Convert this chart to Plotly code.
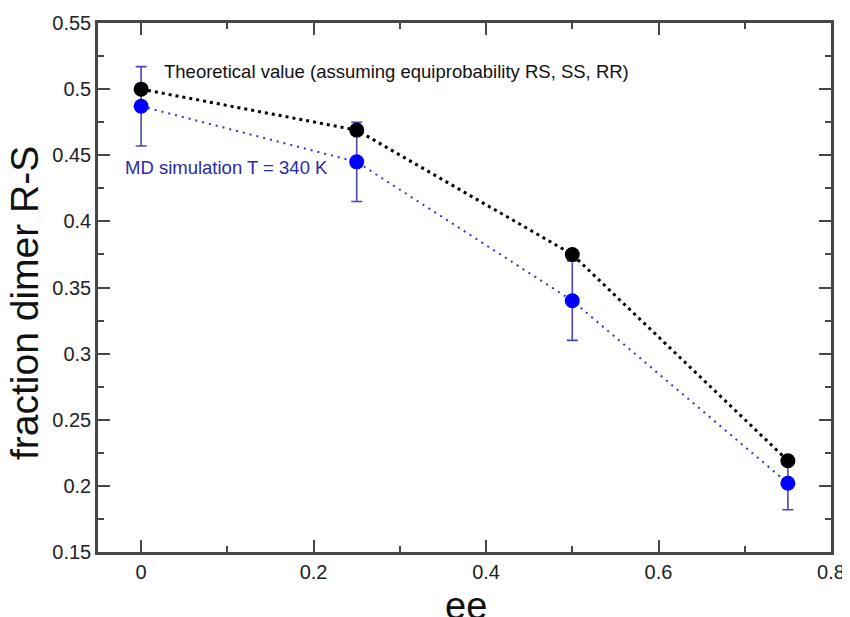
import plotly.graph_objects as go

ee = [0.0, 0.25, 0.5, 0.75]
theory = [0.5, 0.469, 0.375, 0.219]
md = [0.487, 0.445, 0.340, 0.202]
md_err = [0.030, 0.030, 0.030, 0.020]
x_ticks = [0, 0.2, 0.4, 0.6, 0.8]
y_ticks = [0.15, 0.2, 0.25, 0.3, 0.35, 0.4, 0.45, 0.5, 0.55]
label_theory = "Theoretical value (assuming equiprobability RS, SS, RR)"
label_md = "MD simulation T = 340 K"
x_title = "ee"
y_title = "fraction dimer R-S"

FONT = "Liberation Sans, Arial, sans-serif"
AX = "#474747"

fig = go.Figure()
fig.add_trace(go.Scatter(
    x=ee, y=md, mode="lines+markers",
    line=dict(color="#3434d0", width=2, dash="2px,5px"),
    marker=dict(color="#0000ff", size=15),
    error_y=dict(type="data", array=md_err, visible=True,
                 color="#4848b0", thickness=1.6, width=5.5),
    showlegend=False,
))
fig.add_trace(go.Scatter(
    x=ee, y=theory, mode="lines+markers",
    line=dict(color="black", width=3, dash="3px,4px"),
    marker=dict(color="black", size=15),
    showlegend=False,
))

fig.add_annotation(x=0.024, y=0.5136, text=label_theory, showarrow=False,
                   xanchor="left", yanchor="middle",
                   font=dict(family=FONT, size=18.5, color="#111111"))
fig.add_annotation(x=-0.0215, y=0.4404, text=label_md, showarrow=False,
                   xanchor="left", yanchor="middle",
                   font=dict(family=FONT, size=18.5, color="#2a2aa8"))

# axis titles as paper annotations for exact placement
fig.add_annotation(x=-0.0996, y=0.4707, xref="paper", yref="paper",
                   text=y_title, textangle=-90, showarrow=False,
                   xanchor="center", yanchor="middle",
                   font=dict(family=FONT, size=39, color="#111111"))
fig.add_annotation(x=0.5014, y=-0.103, xref="paper", yref="paper",
                   text=x_title, showarrow=False,
                   xanchor="center", yanchor="middle",
                   font=dict(family=FONT, size=38, color="#111111"))

axis_common = dict(
    showline=True, linecolor=AX, linewidth=2.5, mirror="ticks",
    ticks="inside", ticklen=12, tickwidth=1.6, tickcolor=AX,
    showgrid=False, zeroline=False, automargin=False,
    tickfont=dict(family=FONT, size=20, color="#222222"),
)

fig.update_xaxes(
    range=[-0.05, 0.8], tickvals=x_ticks,
    ticktext=[f"{v:g}" for v in x_ticks],
    minor=dict(ticks="inside", ticklen=6, tickwidth=1.6, tickcolor=AX, dtick=0.1, showgrid=False),
    **axis_common,
)
fig.update_yaxes(
    range=[0.15, 0.55], tickvals=y_ticks,
    ticktext=[f"{v:g}" for v in y_ticks],
    minor=dict(ticks="inside", ticklen=6, tickwidth=1.6, tickcolor=AX, dtick=0.025, showgrid=False),
    **axis_common,
)

# page body has an 8px default margin, so size/margins compensate for it
fig.update_layout(
    width=842, height=609,
    margin=dict(l=90, r=19, t=15, b=65),
    plot_bgcolor="white", paper_bgcolor="white",
)

fig.write_html("out.html")
